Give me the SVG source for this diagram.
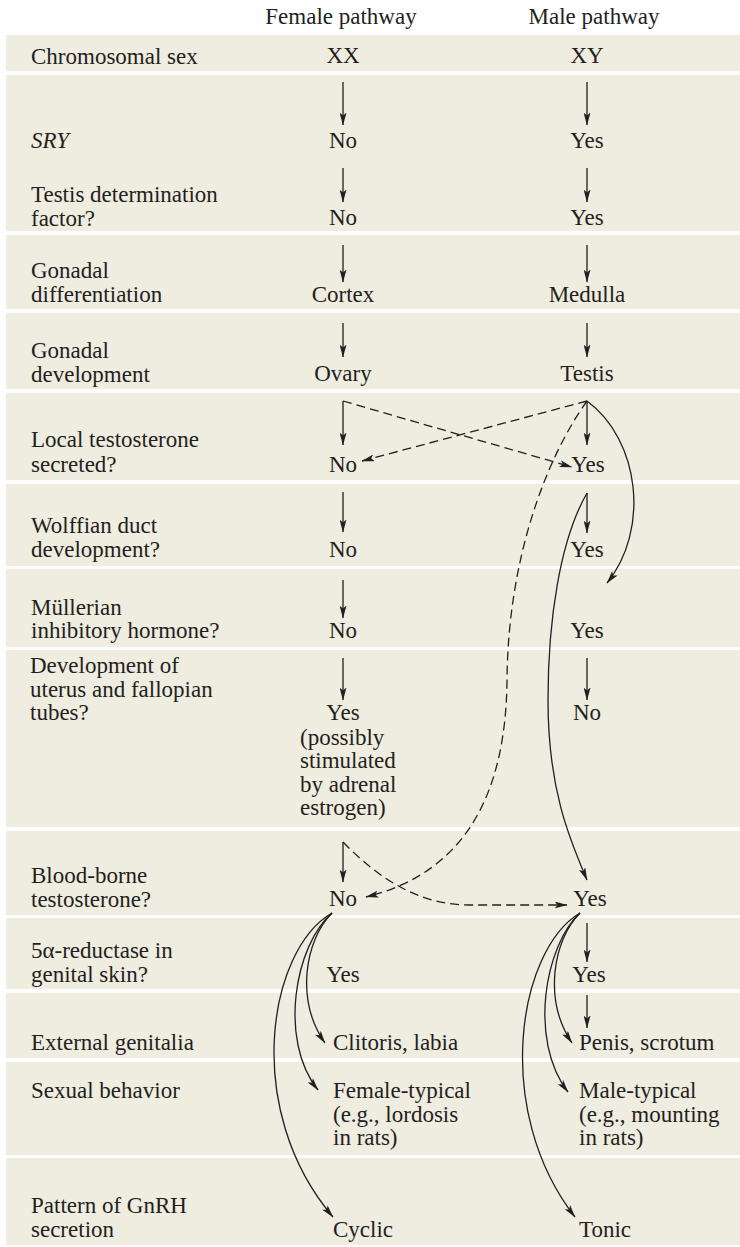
<svg xmlns="http://www.w3.org/2000/svg" width="740" height="1247" viewBox="0 0 740 1247">
<style>
text{font-family:"Liberation Serif","Times New Roman",serif;font-size:23px;fill:#231f20}
.c{text-anchor:middle}
.band{fill:#efece0}
.ln{fill:none;stroke:#231f20;stroke-width:1.3}
.ds{stroke-dasharray:9 5}
</style>
<defs>
<marker id="ah" viewBox="0 0 13 7" markerWidth="13" markerHeight="7" markerUnits="userSpaceOnUse" refX="12.5" refY="3.5" orient="auto">
<path d="M0,0 L13,3.5 L0,7 L3,3.5 Z" fill="#231f20"/>
</marker>
</defs>
<rect width="740" height="1247" fill="#fff"/>
<g id="bands">
<rect class="band" x="6" y="35" width="734" height="36"/>
<rect class="band" x="6" y="75" width="734" height="156"/>
<rect class="band" x="6" y="235" width="734" height="74"/>
<rect class="band" x="6" y="313" width="734" height="76"/>
<rect class="band" x="6" y="393" width="734" height="87"/>
<rect class="band" x="6" y="484" width="734" height="82"/>
<rect class="band" x="6" y="569" width="734" height="78"/>
<rect class="band" x="6" y="650" width="734" height="177"/>
<rect class="band" x="6" y="831" width="734" height="84"/>
<rect class="band" x="6" y="918" width="734" height="71"/>
<rect class="band" x="6" y="993" width="734" height="65"/>
<rect class="band" x="6" y="1062" width="734" height="93"/>
<rect class="band" x="6" y="1158" width="734" height="87"/>
</g>
<g id="headers">
<text class="c" x="341" y="24">Female pathway</text>
<text class="c" x="594" y="24">Male pathway</text>
</g>
<g id="labels">
<g id="lab-chrom"><text x="31" y="64">Chromosomal sex</text></g>
<g id="lab-sry"><text x="31" y="148" font-style="italic">SRY</text></g>
<g id="lab-tdf"><text x="31" y="202">Testis determination</text><text x="31" y="226">factor?</text></g>
<g id="lab-gdiff"><text x="31" y="278">Gonadal</text><text x="31" y="302">differentiation</text></g>
<g id="lab-gdev"><text x="31" y="358">Gonadal</text><text x="31" y="382">development</text></g>
<g id="lab-local"><text x="31" y="447">Local testosterone</text><text x="31" y="472">secreted?</text></g>
<g id="lab-wolff"><text x="31" y="533">Wolffian duct</text><text x="31" y="557">development?</text></g>
<g id="lab-mull"><text x="31" y="615">Müllerian</text><text x="31" y="638">inhibitory hormone?</text></g>
<g id="lab-uterus"><text x="30" y="673">Development of</text><text x="30" y="697">uterus and fallopian</text><text x="30" y="720">tubes?</text></g>
<g id="lab-blood"><text x="31" y="883">Blood-borne</text><text x="31" y="907">testosterone?</text></g>
<g id="lab-5a"><text x="31" y="958">5α-reductase in</text><text x="31" y="982">genital skin?</text></g>
<g id="lab-ext"><text x="31" y="1050">External genitalia</text></g>
<g id="lab-sex"><text x="31" y="1098">Sexual behavior</text></g>
<g id="lab-gnrh"><text x="31" y="1213">Pattern of GnRH</text><text x="31" y="1237">secretion</text></g>
</g>
<g id="female">
<g id="f-xx"><text class="c" x="343" y="63">XX</text></g>
<g id="f-sry"><text class="c" x="343" y="148">No</text></g>
<g id="f-tdf"><text class="c" x="343" y="225">No</text></g>
<g id="f-cortex"><text class="c" x="343" y="302">Cortex</text></g>
<g id="f-ovary"><text class="c" x="343" y="381">Ovary</text></g>
<g id="f-local"><text class="c" x="343" y="472">No</text></g>
<g id="f-wolff"><text class="c" x="343" y="557">No</text></g>
<g id="f-mull"><text class="c" x="343" y="638">No</text></g>
<g id="f-uterus"><text class="c" x="343" y="720">Yes</text><text x="300" y="745">(possibly</text><text x="300" y="768">stimulated</text><text x="300" y="792">by adrenal</text><text x="300" y="815">estrogen)</text></g>
<g id="f-blood"><text class="c" x="343" y="906">No</text></g>
<g id="f-5a"><text class="c" x="343" y="982">Yes</text></g>
<g id="f-ext"><text x="333" y="1050">Clitoris, labia</text></g>
<g id="f-sex"><text x="333" y="1098">Female-typical</text><text x="333" y="1122">(e.g., lordosis</text><text x="333" y="1145">in rats)</text></g>
<g id="f-gnrh"><text x="333" y="1237">Cyclic</text></g>
</g>
<g id="male">
<g id="m-xy"><text class="c" x="587" y="63">XY</text></g>
<g id="m-sry"><text class="c" x="587" y="148">Yes</text></g>
<g id="m-tdf"><text class="c" x="587" y="225">Yes</text></g>
<g id="m-medulla"><text class="c" x="587" y="302">Medulla</text></g>
<g id="m-testis"><text class="c" x="587" y="381">Testis</text></g>
<g id="m-local"><text class="c" x="588" y="472">Yes</text></g>
<g id="m-wolff"><text class="c" x="587" y="557">Yes</text></g>
<g id="m-mull"><text class="c" x="587" y="638">Yes</text></g>
<g id="m-uterus"><text class="c" x="587" y="720">No</text></g>
<g id="m-blood"><text class="c" x="590" y="906">Yes</text></g>
<g id="m-5a"><text class="c" x="589" y="982">Yes</text></g>
<g id="m-ext"><text x="579" y="1050">Penis, scrotum</text></g>
<g id="m-sex"><text x="579" y="1098">Male-typical</text><text x="579" y="1122">(e.g., mounting</text><text x="579" y="1145">in rats)</text></g>
<g id="m-gnrh"><text x="579" y="1237">Tonic</text></g>
</g>
<g id="connectors">
<path class="ln" marker-end="url(#ah)" d="M343,82 V125"/>
<path class="ln" marker-end="url(#ah)" d="M343,168 V202"/>
<path class="ln" marker-end="url(#ah)" d="M343,245 V282"/>
<path class="ln" marker-end="url(#ah)" d="M343,323 V357"/>
<path class="ln" marker-end="url(#ah)" d="M343,401 V445"/>
<path class="ln" marker-end="url(#ah)" d="M343,492 V532"/>
<path class="ln" marker-end="url(#ah)" d="M343,580 V618"/>
<path class="ln" marker-end="url(#ah)" d="M343,658 V700"/>
<path class="ln" marker-end="url(#ah)" d="M343,842 V882"/>
<path class="ln" marker-end="url(#ah)" d="M587,82 V125"/>
<path class="ln" marker-end="url(#ah)" d="M587,168 V202"/>
<path class="ln" marker-end="url(#ah)" d="M587,245 V282"/>
<path class="ln" marker-end="url(#ah)" d="M587,323 V357"/>
<path class="ln" marker-end="url(#ah)" d="M587,401 V445"/>
<path class="ln" marker-end="url(#ah)" d="M587,493 V533"/>
<path class="ln" marker-end="url(#ah)" d="M587,658 V700"/>
<path class="ln" marker-end="url(#ah)" d="M587,923 V962"/>
<path class="ln" marker-end="url(#ah)" d="M587,995 V1028"/>
<path class="ln ds" marker-end="url(#ah)" d="M343,401 L572,467"/>
<path class="ln ds" marker-end="url(#ah)" d="M587,401 L362,461"/>
<path class="ln ds" marker-end="url(#ah)" d="M587,401 C545,460 508,560 507,680 C506,790 468,872 366,897"/>
<path class="ln" marker-end="url(#ah)" d="M587,401 C640,440 650,530 607,583"/>
<path class="ln" marker-end="url(#ah)" d="M587,493 C560,540 548,620 548,700 C548,790 570,840 587,880"/>
<path class="ln ds" marker-end="url(#ah)" d="M343,842 C380,880 420,905 470,905 L567,905"/>
<path class="ln" marker-end="url(#ah)" d="M332,913 C305,940 295,1000 325,1043"/>
<path class="ln" marker-end="url(#ah)" d="M332,913 C295,945 278,1040 318,1090"/>
<path class="ln" marker-end="url(#ah)" d="M332,913 C268,950 242,1110 333,1217"/>
<path class="ln" marker-end="url(#ah)" d="M580,913 C553,940 543,1000 572,1043"/>
<path class="ln" marker-end="url(#ah)" d="M580,913 C545,945 528,1040 568,1092"/>
<path class="ln" marker-end="url(#ah)" d="M580,913 C518,950 492,1110 575,1217"/>
</g>
</svg>
